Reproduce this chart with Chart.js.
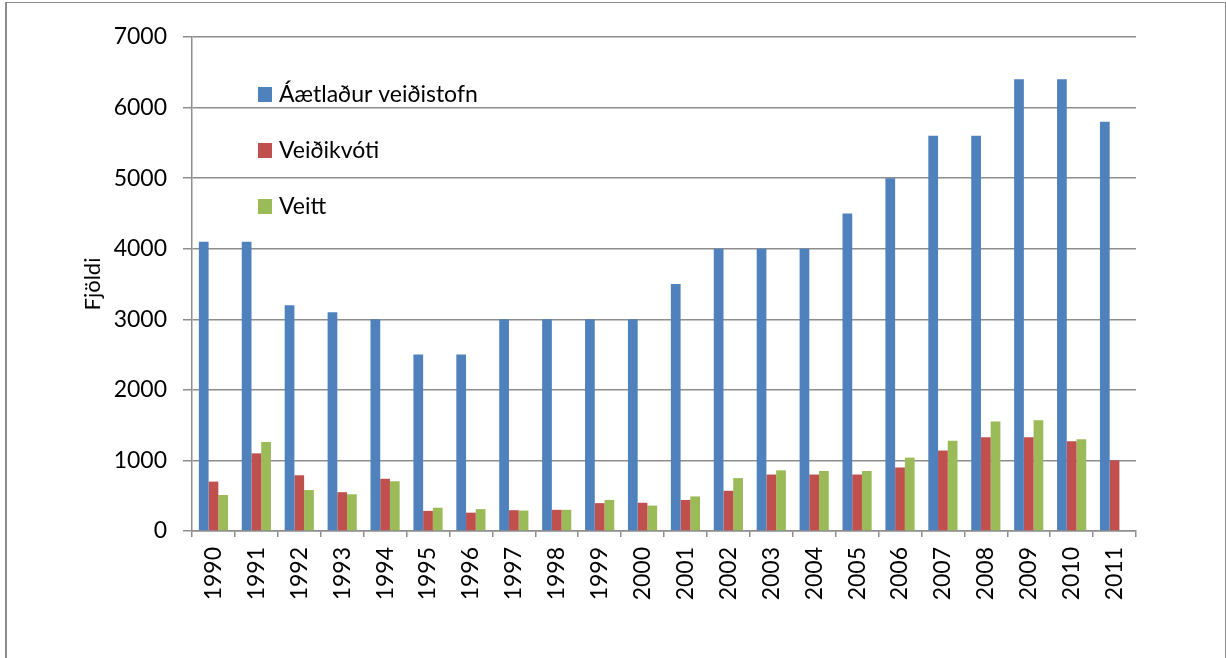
<!DOCTYPE html>
<html>
<head>
<meta charset="utf-8">
<script src="https://cdn.jsdelivr.net/npm/chart.js@4/dist/chart.umd.min.js"></script>
<style>
  html, body { margin: 0; padding: 0; background: #fff; }
  #wrap { position: relative; width: 1226px; height: 658px; overflow: hidden; }
  #frame { position: absolute; left: 5px; top: 2px; width: 1218px; height: 700px;
           border-left: 2px solid #8c8c8c; border-top: 1px solid #8c8c8c; border-right: 1px solid #8c8c8c;
           pointer-events: none; }
</style>
</head>
<body>
<div id="wrap">
  <canvas id="chart" width="1226" height="658"></canvas>
  <div id="frame"></div>
</div>
<script>
// ===== data =====
var years = ["1990","1991","1992","1993","1994","1995","1996","1997","1998","1999","2000",
             "2001","2002","2003","2004","2005","2006","2007","2008","2009","2010","2011"];
var stofn = [4100,4100,3200,3100,3000,2500,2500,3000,3000,3000,3000,
             3500,4000,4000,4000,4500,5000,5600,5600,6400,6400,5800];
var kvoti = [700,1100,790,550,740,285,260,295,300,395,400,
             440,570,800,800,800,900,1140,1330,1330,1270,1000];
var veitt = [510,1260,580,520,705,330,310,290,300,440,360,
             490,750,860,850,850,1040,1280,1550,1570,1300,null];
var yTicks = [0,1000,2000,3000,4000,5000,6000,7000];

var FONT = "Lato, 'Open Sans', sans-serif";
var gridColor = '#8e8e8e';

// legend drawn inside the plot area, top left
var innerLegend = {
    id: 'innerLegend',
    afterDraw: function(chart) {
        var ctx = chart.ctx;
        var area = chart.chartArea;
        ctx.save();
        ctx.font = '23px ' + FONT;
        ctx.textBaseline = 'middle';
        chart.data.datasets.forEach(function(ds, i) {
            var x = area.left + 66;
            var y = area.top + 50 + i * 56;
            ctx.fillStyle = ds.backgroundColor;
            ctx.fillRect(x, y, 14, 15);
            ctx.fillStyle = '#000';
            ctx.fillText(ds.label, x + 21, y + 8);
        });
        ctx.restore();
    }
};

var ctx = document.getElementById('chart');

var chart = new Chart(ctx, {
    type: 'bar',
    data: {
        labels: years,
        datasets: [
            { label: 'Áætlaður veiðistofn', data: stofn, backgroundColor: '#4F81BD' },
            { label: 'Veiðikvóti', data: kvoti, backgroundColor: '#C0504D' },
            { label: 'Veitt', data: veitt, backgroundColor: '#9BBB59' }
        ]
    },
    options: {
        responsive: false,
        animation: false,
        layout: { padding: { left: 0, top: 37, right: 90, bottom: 0 } },
        datasets: { bar: { categoryPercentage: 0.68, barPercentage: 1.0 } },
        plugins: {
            legend: { display: false },
            tooltip: { enabled: false }
        },
        scales: {
            x: {
                grid: { offset: true, drawOnChartArea: false, drawTicks: true, tickLength: 6,
                        color: gridColor, lineWidth: 1.5 },
                border: { color: gridColor, width: 1.5 },
                ticks: { autoSkip: false, maxRotation: 90, minRotation: 90, padding: 10,
                         color: '#000', font: { family: FONT, size: 23 } },
                afterFit: function(scale) { scale.height = 127; }
            },
            y: {
                min: 0, max: 7000,
                afterBuildTicks: function(scale) {
                    scale.ticks = yTicks.map(function(v) { return { value: v }; });
                },
                grid: { color: gridColor, lineWidth: 1.5, tickLength: 9 },
                border: { color: gridColor, width: 1.5 },
                ticks: { padding: 16, color: '#000', font: { family: FONT, size: 23 },
                         callback: function(v) { return String(v); } },
                title: { display: true, text: 'Fjöldi', color: '#000',
                         font: { family: FONT, size: 22 }, padding: { top: 80, bottom: 0 } },
                afterFit: function(scale) { scale.width = 192; }
            }
        }
    },
    plugins: [innerLegend]
});
</script>
</body>
</html>
